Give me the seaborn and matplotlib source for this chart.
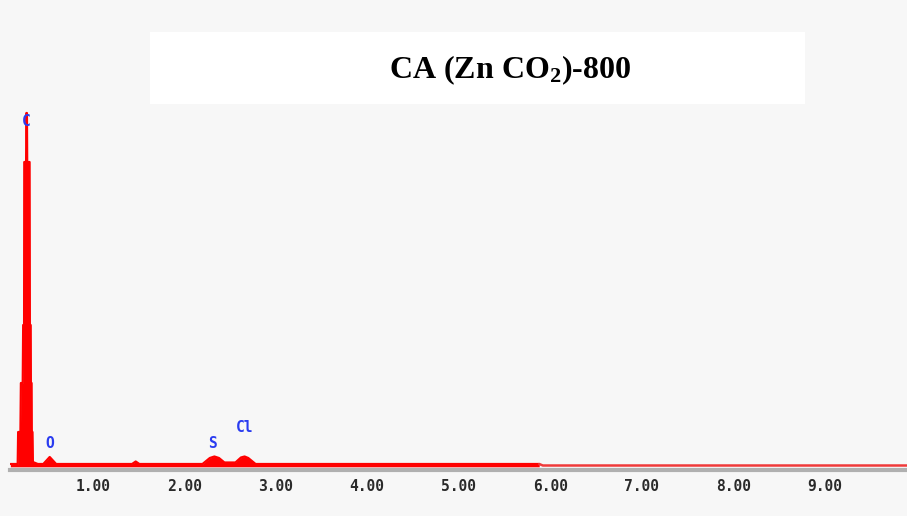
import matplotlib
matplotlib.use("Agg")
import matplotlib.pyplot as plt
import seaborn as sns
import pandas as pd
from matplotlib.patches import Rectangle

# ---- data ----
energy_keV = [0.10, 0.18, 0.185, 0.21, 0.215, 0.235, 0.24, 0.25, 0.252, 0.272, 0.275, 0.281,
              0.284, 0.31, 0.313, 0.322, 0.324, 0.332, 0.334, 0.342, 0.346, 0.40,
              0.46, 0.50, 0.53, 0.56, 0.60,
              1.43, 1.47, 1.51,
              2.20, 2.28, 2.33, 2.38, 2.44, 2.56, 2.62, 2.66, 2.70, 2.78,
              5.88]
counts = [20, 20, 340, 340, 830, 830, 1410, 1410, 3040, 3040, 3530, 3530,
          3040, 3040, 1410, 1410, 830, 830, 340, 340, 40, 20,
          20, 60, 90, 60, 20,
          20, 45, 20,
          20, 80, 95, 80, 35, 35, 85, 95, 80, 20,
          20]
tail_energy_keV = [5.88, 5.92, 9.90]
tail_counts = [20, 5, 5]

element_labels = ["C", "O", "S", "Cl"]
element_energy = [0.27, 0.53, 2.31, 2.66]
element_counts = [3440, 230, 220, 380]

tick_values = [1, 2, 3, 4, 5, 6, 7, 8, 9]
tick_labels = ["1.00", "2.00", "3.00", "4.00", "5.00", "6.00", "7.00", "8.00", "9.00"]

title_text = "CA (Zn CO$_\\mathbf{2}$)-800"

# ---- plot ----
sns.set_style("white")
plt.rcParams["font.family"] = ["DejaVu Sans"]
plt.rcParams["mathtext.fontset"] = "custom"
plt.rcParams["mathtext.rm"] = "Liberation Serif"
plt.rcParams["mathtext.bf"] = "Liberation Serif:bold"
plt.rcParams["mathtext.it"] = "Liberation Serif:italic"

fig = plt.figure(figsize=(9.07, 5.16), dpi=100)
fig.patch.set_facecolor("#f7f7f7")
fig.patches.append(Rectangle((150 / 907, 1 - 104 / 516), (805 - 150) / 907, (104 - 32) / 516,
                             transform=fig.transFigure, facecolor="white", edgecolor="none", zorder=0))

ax = fig.add_axes([10 / 907, 1 - 470 / 516, 897 / 907, 370 / 516])
ax.set_facecolor("none")

df = pd.DataFrame({"energy": energy_keV, "counts": counts})
df_tail = pd.DataFrame({"energy": tail_energy_keV, "counts": tail_counts})

ax.fill_between(df["energy"], -8, df["counts"], color="#ff0000", linewidth=0)
sns.lineplot(data=df, x="energy", y="counts", color="#ff0000", linewidth=1.6, ax=ax, sort=False)
sns.lineplot(data=df_tail, x="energy", y="counts", color="#f03a3a", linewidth=1.8, ax=ax, sort=False)

for lab, e, c in zip(element_labels, element_energy, element_counts):
    ax.text(e, c, lab, color="#2a3cf0", fontsize=10.5, fontweight="bold", ha="center", va="center",
            family="DejaVu Sans Mono")

ax.set_xlim(0.096, 9.9)
ax.set_ylim(-40, 3660)
ax.set_xticks(tick_values)
ax.set_xticklabels(tick_labels, fontsize=10.5, fontweight="bold", color="#2a2a2a", family="DejaVu Sans Mono")
ax.set_yticks([])
ax.set_xlabel("")
ax.set_ylabel("")
for s in ["top", "right", "left"]:
    ax.spines[s].set_visible(False)
ax.spines["bottom"].set_color("#b0b0b0")
ax.spines["bottom"].set_linewidth(3)
ax.tick_params(axis="x", direction="inout", length=5, width=2, color="#333333", pad=4)

fig.text(510 / 907, 1 - 70 / 516, title_text, fontsize=23, fontweight="bold",
         family="Liberation Serif", ha="center", va="center", color="black")

fig.savefig("out.png", dpi=100, facecolor=fig.get_facecolor())
